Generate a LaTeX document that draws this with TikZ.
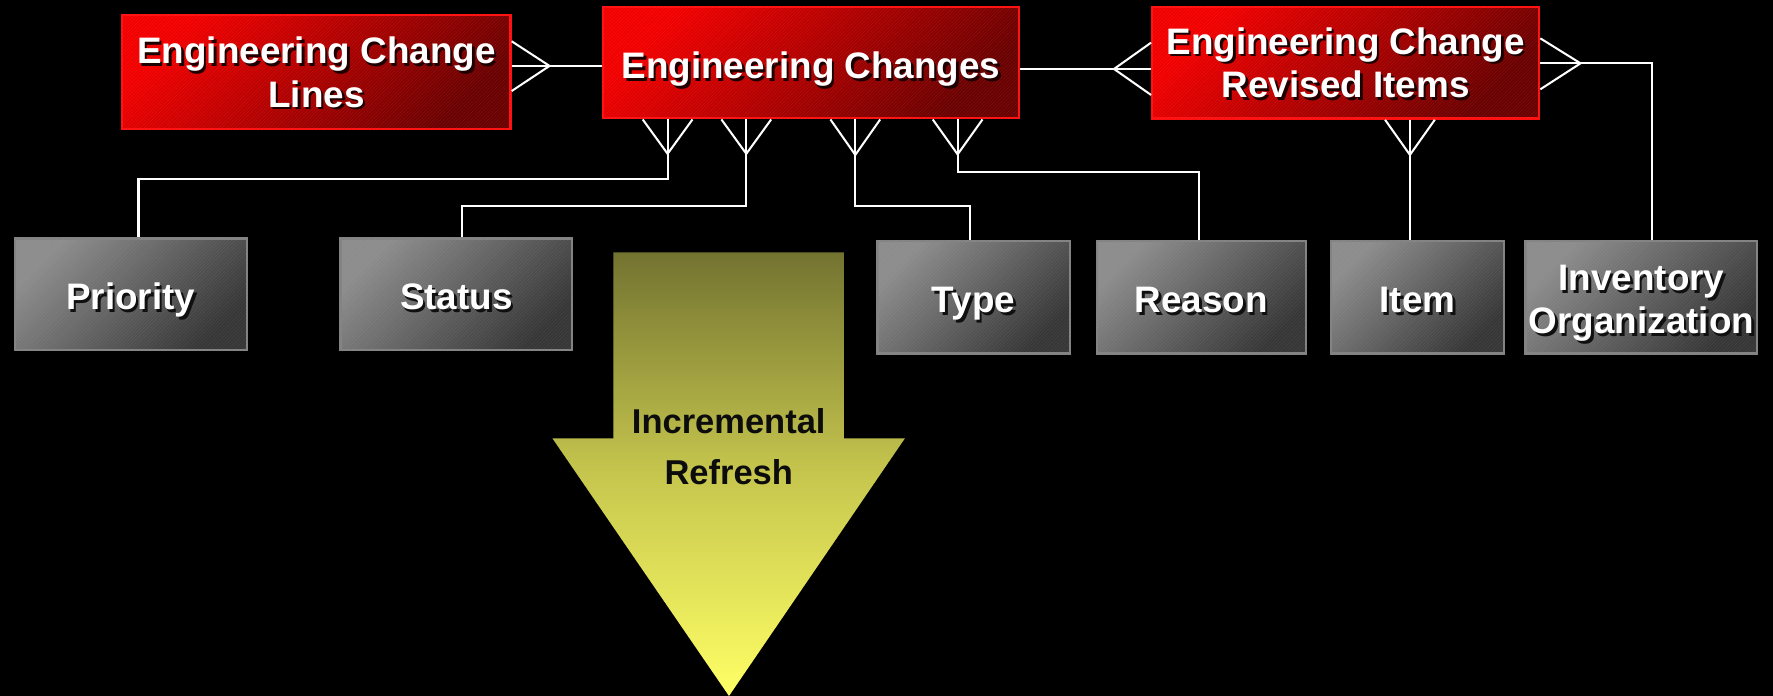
\documentclass[tikz,border=0pt]{standalone}
\usepackage{fontspec}
\setmainfont{Liberation Sans}
\usetikzlibrary{calc,patterns}
\definecolor{redA}{HTML}{F20000}
\definecolor{redB}{HTML}{6A0000}
\definecolor{redE}{HTML}{FF1010}
\definecolor{grayA}{HTML}{8C8C8C}
\definecolor{grayB}{HTML}{363636}
\definecolor{grayE}{HTML}{828282}
\definecolor{oliveT}{HTML}{737331}
\definecolor{oliveM}{HTML}{C6C64E}
\definecolor{yelB}{HTML}{FFFF66}
\definecolor{shR}{HTML}{1E0000}
\definecolor{shG}{HTML}{101010}
\definecolor{arrtext}{HTML}{0C0C0C}
\newcommand\shtxt[2]{\leavevmode\rlap{\kern2.2pt\raisebox{-2.2pt}{\textcolor{#1}{#2}}}#2}
\newcommand\rs[1]{\shtxt{shR}{#1}}
\newcommand\gs[1]{\shtxt{shG}{#1}}
\newcommand\footdown[2]{%
  \draw[conn] ($(#1 |- #2.south)+(-22,0)$) -- (#1) -- ($(#1 |- #2.south)+(22,0)$);
  \draw[conn] (#1 |- #2.south) -- (#1);}
\tikzset{
  basebox/.style={rectangle, line width=2pt, inner sep=0pt, text=white, align=center,
    font=\fontsize{32.6}{38.5}\selectfont\bfseries, text depth=0pt,
    postaction={pattern=north east lines, pattern color=white, opacity=0.07}},
  redbox/.style={basebox, draw=redE, top color=redA, bottom color=redB, shading angle=45},
  graybox/.style={basebox, draw=grayE, top color=grayA, bottom color=grayB, shading angle=45,
    text height=27.3pt},
  conn/.style={draw=white, line width=1.8pt},
  arrtxt/.style={inner sep=0pt, text=arrtext, align=center, text depth=0pt,
    font=\fontsize{30.5}{44.3}\selectfont\bfseries},
}
\begin{document}
\begin{tikzpicture}[x=1pt,y=-1pt]
\useasboundingbox (0,0) rectangle (1568,615.5);
\fill[black] (0,0) rectangle (1568,615.5);

% arrow
\shade[top color=oliveT, bottom color=yelB, middle color=oliveM]
  (542.4,223.1) -- (746.4,223.1) -- (746.4,387.6) -- (800.3,387.6) -- (644.7,615.5)
  -- (488.5,387.6) -- (542.4,387.6) -- cycle;
\node[arrtxt] (ir) at (644.5,394.9) {Incremental\\Refresh};

% red boxes
\node[redbox, minimum width=343.4pt, minimum height=101.4pt] (ecl) at (279.8,63.7)
  {\rs{Engineering Change}\\\rs{Lines}};
\node[redbox, minimum width=368.4pt, minimum height=98.7pt, text height=28.3pt] (ec) at (717.2,55.3)
  {\rs{Engineering Changes}};
\node[redbox, minimum width=342.2pt, minimum height=99pt] (ecri) at (1190.1,55.4)
  {\rs{Engineering Change}\\\rs{Revised Items}};

% gray boxes
\node[graybox, minimum width=205.3pt, minimum height=98.8pt] (pri) at (115.6,260.3) {\gs{Priority}};
\node[graybox, minimum width=204.8pt, minimum height=98.8pt] (sta) at (403.6,260.3) {\gs{Status}};
\node[graybox, minimum width=170pt, minimum height=99.6pt] (typ) at (861,262.8) {\gs{Type}};
\node[graybox, minimum width=185pt, minimum height=99.6pt] (rea) at (1062.5,262.8) {\gs{Reason}};
\node[graybox, minimum width=153pt, minimum height=99.6pt] (itm) at (1253.5,262.8) {\gs{Item}};
\node[graybox, minimum width=204.8pt, minimum height=99.6pt, text height=65pt,
  font=\fontsize{32.6}{38}\selectfont\bfseries]
  (inv) at (1451.6,262.8) {\gs{Inventory}\\\gs{Organization}};

% ECL -- EC
\coordinate (v1) at (486,58.3);
\draw[conn] (v1 -| ecl.east) -- (v1 -| ec.west);
\draw[conn] ($(v1 -| ecl.east)+(0,-21.8)$) -- (v1) -- ($(v1 -| ecl.east)+(0,22.2)$);

% EC -- ECRI
\coordinate (v2) at (985.2,61);
\draw[conn] (v2 -| ec.east) -- (v2 -| ecri.west);
\draw[conn] ($(v2 -| ecri.west)+(0,-23.3)$) -- (v2) -- ($(v2 -| ecri.west)+(0,23)$);

% ECRI -- Inventory Organization
\coordinate (v3) at (1397.8,56);
\coordinate (k3) at (1460.7,56);
\draw[conn] (v3 -| ecri.east) -- (k3) -- (k3 |- inv.north);
\draw[conn] ($(v3 -| ecri.east)+(0,-22.1)$) -- (v3) -- ($(v3 -| ecri.east)+(0,23)$);

% EC -- attributes
\coordinate (f1) at (590.4,136);
\coordinate (f2) at (660,136);
\coordinate (f3) at (756.4,137);
\coordinate (f4) at (846.9,136.5);
\coordinate (f5) at (1246.9,137);
\footdown{f1}{ec}
\footdown{f2}{ec}
\footdown{f3}{ec}
\footdown{f4}{ec}
\footdown{f5}{ecri}

\coordinate (r1) at (122.5,158.6);
\coordinate (r2) at (408.5,182.5);
\coordinate (r3) at (858,182.2);
\coordinate (r4) at (1060.6,151.7);
\draw[conn] (f1) -- (f1 |- r1) -- (r1) -- (r1 |- pri.north);
\draw[conn] (f2) -- (f2 |- r2) -- (r2) -- (r2 |- sta.north);
\draw[conn] (f3) -- (f3 |- r3) -- (r3) -- (r3 |- typ.north);
\draw[conn] (f4) -- (f4 |- r4) -- (r4) -- (r4 |- rea.north);
\draw[conn] (f5) -- (f5 |- itm.north);
\end{tikzpicture}
\end{document}
